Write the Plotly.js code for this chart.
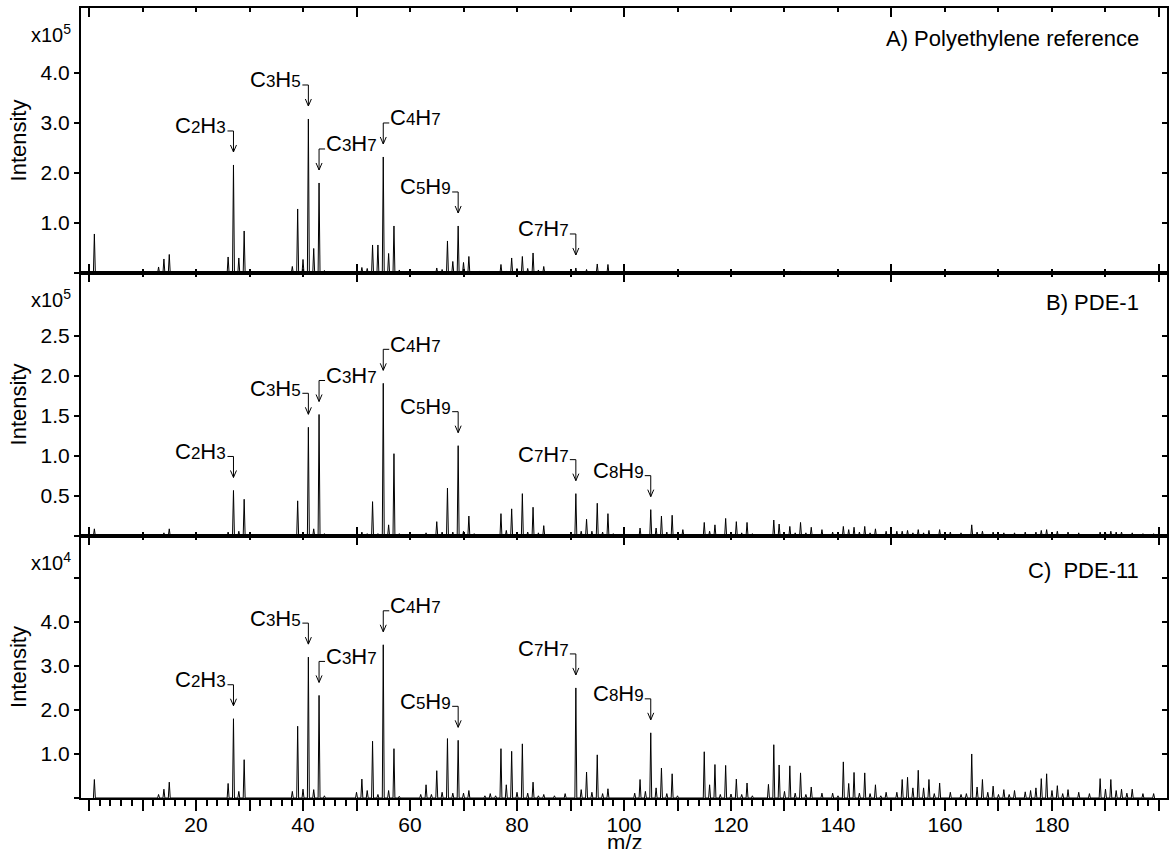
<!DOCTYPE html>
<html>
<head>
<meta charset="utf-8">
<script src="https://cdn.plot.ly/plotly-3.0.1.min.js"></script>
<style>
  html, body { margin: 0; padding: 0; background: #fff; }
  #chart { width: 1169px; height: 849px; }
</style>
</head>
<body>
<div id="chart"></div>
<script>
// ---- Peak lists: [m/z, intensity] ----
// Panels A and B are in units of 1e5 counts, panel C in units of 1e4 counts.
const peaksA = [
  [1,0.78],[2,0.02],[12,0.03],[13,0.12],[14,0.28],[15,0.37],
  [26,0.32],[27,2.16],[28,0.30],[29,0.84],
  [38,0.13],[39,1.28],[40,0.27],[41,3.08],[42,0.49],[43,1.80],[44,0.05],
  [50,0.03],[51,0.11],[52,0.09],[53,0.56],[54,0.56],[55,2.32],[56,0.39],[57,0.94],[58,0.06],
  [65,0.10],[66,0.07],[67,0.64],[68,0.23],[69,0.94],[70,0.21],[71,0.33],[73,0.04],
  [77,0.17],[78,0.04],[79,0.30],[80,0.09],[81,0.33],[82,0.09],[83,0.40],[84,0.06],[85,0.13],
  [90,0.05],[91,0.10],[92,0.03],[93,0.07],[94,0.03],[95,0.18],[96,0.03],[97,0.17],[98,0.02],
  [105,0.03],[109,0.02],[133,0.04]
];

const peaksB = [
  [1,0.09],[14,0.04],[15,0.09],
  [26,0.05],[27,0.57],[28,0.06],[29,0.46],
  [38,0.02],[39,0.44],[40,0.05],[41,1.36],[42,0.09],[43,1.52],[44,0.03],[45,0.02],
  [51,0.05],[52,0.03],[53,0.43],[54,0.03],[55,1.91],[56,0.14],[57,1.03],[58,0.03],[59,0.02],
  [63,0.04],[65,0.18],[66,0.05],[67,0.60],[68,0.05],[69,1.13],[70,0.06],[71,0.25],[72,0.03],
  [76,0.02],[77,0.28],[78,0.07],[79,0.34],[80,0.04],[81,0.53],[82,0.05],[83,0.36],[84,0.04],[85,0.13],
  [91,0.53],[92,0.06],[93,0.21],[94,0.06],[95,0.41],[96,0.05],[97,0.28],[98,0.03],
  [103,0.10],[105,0.33],[106,0.10],[107,0.25],[108,0.05],[109,0.26],[110,0.03],[111,0.08],
  [115,0.17],[116,0.06],[117,0.14],[119,0.22],[120,0.05],[121,0.18],[122,0.04],[123,0.17],[124,0.03],[125,0.02],
  [128,0.20],[129,0.15],[131,0.12],[132,0.04],[133,0.17],[134,0.04],[135,0.11],[137,0.08],[139,0.05],
  [141,0.12],[142,0.08],[143,0.11],[144,0.05],[145,0.12],[146,0.04],[147,0.09],[149,0.06],
  [151,0.06],[152,0.06],[153,0.07],[154,0.04],[155,0.08],[156,0.04],[157,0.07],[159,0.08],
  [161,0.05],[163,0.04],[165,0.14],[166,0.05],[167,0.06],[169,0.05],[171,0.04],[173,0.04],
  [175,0.05],[177,0.05],[178,0.07],[179,0.08],[180,0.05],[181,0.06],[183,0.05],[185,0.04],
  [189,0.05],[190,0.04],[191,0.06],[192,0.05],[193,0.05],[195,0.04],[197,0.03],[199,0.03]
];

const peaksC = [
  [1,0.42],[13,0.08],[14,0.20],[15,0.36],
  [26,0.33],[27,1.80],[28,0.15],[29,0.87],
  [38,0.15],[39,1.63],[40,0.20],[41,3.20],[42,0.19],[43,2.33],[44,0.05],
  [50,0.13],[51,0.43],[52,0.17],[53,1.29],[54,0.08],[55,3.48],[56,0.17],[57,1.12],[58,0.04],
  [62,0.08],[63,0.30],[64,0.08],[65,0.62],[66,0.13],[67,1.35],[68,0.11],[69,1.31],[70,0.11],[71,0.17],
  [74,0.05],[75,0.10],[76,0.05],[77,1.12],[78,0.30],[79,1.06],[80,0.13],[81,1.23],[82,0.11],[83,0.36],
  [84,0.05],[85,0.08],[87,0.05],[89,0.10],
  [91,2.50],[92,0.19],[93,0.59],[94,0.13],[95,0.98],[96,0.10],[97,0.21],
  [102,0.11],[103,0.42],[104,0.15],[105,1.48],[106,0.23],[107,0.68],[108,0.10],[109,0.55],[110,0.05],
  [115,1.05],[116,0.30],[117,0.76],[118,0.08],[119,0.74],[120,0.09],[121,0.43],[122,0.08],[123,0.34],[124,0.05],
  [127,0.31],[128,1.21],[129,0.75],[130,0.15],[131,0.73],[132,0.11],[133,0.57],[134,0.08],[135,0.25],
  [137,0.11],[139,0.11],[140,0.05],[141,0.82],[142,0.33],[143,0.58],[144,0.11],[145,0.57],[146,0.10],
  [147,0.30],[148,0.05],[149,0.13],[151,0.13],[152,0.42],[153,0.47],[154,0.23],[155,0.63],[156,0.23],
  [157,0.42],[158,0.10],[159,0.34],[161,0.13],[163,0.08],[164,0.10],[165,1.00],[166,0.25],[167,0.42],
  [168,0.13],[169,0.27],[170,0.08],[171,0.19],[172,0.08],[173,0.17],[175,0.14],[176,0.17],[177,0.23],
  [178,0.44],[179,0.55],[180,0.17],[181,0.28],[182,0.10],[183,0.19],[185,0.13],[187,0.10],
  [189,0.44],[190,0.20],[191,0.42],[192,0.17],[193,0.20],[194,0.11],[195,0.20],[197,0.10],[199,0.10]
];

// ---- Fragment assignments: formula, m/z, side of the peak the label sits on ----
const fragFormulas = ['C2H3', 'C3H5', 'C3H7', 'C4H7', 'C5H9', 'C7H7', 'C8H9'];
const fragMz       = [27, 41, 43, 55, 69, 91, 105];
const fragSide     = ['left', 'left', 'right', 'right', 'left', 'left', 'left'];
const fragCount    = [6, 7, 7];            // labelled fragments per panel

// ---- Panel texts and tick labels ----
const panelNames     = ['A) Polyethylene reference', 'B) PDE-1', 'C)\u00a0 PDE-11'];
const panelExponents = ['x10<sup>5</sup>', 'x10<sup>5</sup>', 'x10<sup>4</sup>'];
const yTickVals = [[0, 1, 2, 3, 4], [0, 0.5, 1, 1.5, 2, 2.5], [0, 1, 2, 3, 4, 5]];
const yTickText = [['', '1.0', '2.0', '3.0', '4.0'],
                   ['', '0.5', '1.0', '1.5', '2.0', '2.5'],
                   ['', '1.0', '2.0', '3.0', '4.0', '']];
const mzTickVals = [0,10,20,30,40,50,60,70,80,90,100,110,120,130,140,150,160,170,180,190,200];
const mzTickText = ['','','20','','40','','60','','80','','100','','120','','140','','160','','180','',''];
const mzTitle = 'm/z';

// ---- Drawing settings ----
const FONT = 'Liberation Sans, Arial, Helvetica, sans-serif';
const PEAK_HALF_WIDTH = 0.18;
const X_RANGE = [-1.5, 201.5];
const Y_RANGES = [[0, 5.3], [0, 3.29], [0, 5.95]];
const DOMAINS = [[0.6646, 1], [0.3316, 0.6646], [0, 0.3316]];
const panels = [peaksA, peaksB, peaksC];
const xIds = ['x', 'x2', 'x3'];
const yIds = ['y', 'y2', 'y3'];

function profile(peaks) {
  const x = [], y = [];
  peaks.forEach(([m, h]) => {
    x.push(m - PEAK_HALF_WIDTH, m, m + PEAK_HALF_WIDTH);
    y.push(0, h, 0);
  });
  return { x, y };
}

function formulaText(f) {
  return f.replace(/(\d)/g, '<span style="font-size:17px">$1</span>');
}

function heightAt(peaks, mz) {
  const p = peaks.find(q => q[0] === mz);
  return p ? p[1] : 0;
}

const traces = [];
panels.forEach((peaks, i) => {
  const p = profile(peaks);
  traces.push({
    type: 'scatter', mode: 'lines', x: p.x, y: p.y,
    xaxis: xIds[i], yaxis: yIds[i],
    line: { color: '#000', width: 1 },
    hoverinfo: 'skip', showlegend: false
  });
});
// Carriers for the tick-only overlay axes
[['x', 'y4'], ['x2', 'y5'], ['x3', 'y6'], ['x4', 'y3']].forEach(([xa, ya]) => {
  traces.push({ type: 'scatter', mode: 'lines', x: [], y: [], xaxis: xa, yaxis: ya,
                hoverinfo: 'skip', showlegend: false });
});

const annotations = [];
const shapes = [];
panels.forEach((peaks, i) => {
  for (let k = 0; k < fragCount[i]; k++) {
    const m = fragMz[k];
    const h = heightAt(peaks, m);
    const left = fragSide[k] === 'left';
    annotations.push({
      xref: xIds[i], yref: yIds[i], x: m, y: h,
      text: formulaText(fragFormulas[k]), showarrow: false,
      xanchor: left ? 'right' : 'left', yanchor: 'middle',
      xshift: left ? -6 : 6, yshift: 39, borderpad: 0,
      font: { family: FONT, size: 22, color: '#000' }
    });
    shapes.push({
      type: 'path', xref: xIds[i], yref: yIds[i],
      xsizemode: 'pixel', ysizemode: 'pixel', xanchor: m, yanchor: h,
      path: (left ? 'M-6,34 L0,34' : 'M6,34 L0,34') + ' L0,13 M-3,20 L0,13 L3,20',
      line: { color: '#000', width: 1 }
    });
  }
  annotations.push({
    xref: xIds[i] + ' domain', yref: yIds[i] + ' domain', x: 1, y: 1,
    xanchor: 'right', yanchor: 'middle', xshift: -27, yshift: -30 - (i === 2 ? 4 : 0),
    text: panelNames[i], showarrow: false, borderpad: 0,
    font: { family: FONT, size: 22, color: '#000' }
  });
  annotations.push({
    xref: 'paper', yref: yIds[i] + ' domain', x: 0, y: 0.9,
    xanchor: 'right', yanchor: 'middle', xshift: -9, yshift: 1,
    text: panelExponents[i], showarrow: false, borderpad: 0,
    font: { family: FONT, size: 20, color: '#000' }
  });
});
// m/z caption under the bottom axis, centred on the 100 tick
annotations.push({
  xref: 'x3', yref: 'paper', x: 100, y: 0, xanchor: 'center', yanchor: 'middle',
  yshift: -44, text: mzTitle, showarrow: false, borderpad: 0,
  font: { family: FONT, size: 22, color: '#000' }
});

const lineStyle = { showline: true, linecolor: '#000', linewidth: 2, showgrid: false,
                    zeroline: false, tickcolor: '#000', tickwidth: 2 };

function boxX(anchor) {
  return Object.assign({}, lineStyle, {
    anchor: anchor, range: X_RANGE, mirror: 'ticks', ticks: 'inside',
    tickmode: 'linear', tick0: 0, dtick: 50, ticklen: 9, showticklabels: false,
    minor: { ticks: 'inside', tickmode: 'linear', tick0: 0, dtick: 10, ticklen: 4,
             tickwidth: 2, tickcolor: '#000' }
  });
}

function leftY(i) {
  return Object.assign({}, lineStyle, {
    domain: DOMAINS[i], anchor: xIds[i], range: Y_RANGES[i], mirror: true,
    tickmode: 'array', tickvals: yTickVals[i], ticktext: yTickText[i],
    ticks: 'outside', ticklen: 5, automargin: false,
    tickfont: { family: FONT, size: 21, color: '#000' },
    title: { text: 'Intensity', font: { family: FONT, size: 22, color: '#000' } }
  });
}

function rightY(i) {
  return {
    overlaying: yIds[i], side: 'right', anchor: xIds[i], range: Y_RANGES[i],
    showline: false, showgrid: false, zeroline: false, showticklabels: false,
    tickmode: 'array', tickvals: yTickVals[i], ticks: 'inside', ticklen: 5,
    tickwidth: 2, tickcolor: '#000'
  };
}

const layout = {
  width: 1169, height: 849,
  margin: { l: 81, r: 2, t: 8, b: 51 },
  paper_bgcolor: '#fff', plot_bgcolor: '#fff',
  font: { family: FONT, size: 22, color: '#000' },
  showlegend: false,
  xaxis: boxX('y'),
  xaxis2: boxX('y2'),
  xaxis3: Object.assign({}, lineStyle, {
    anchor: 'y3', range: X_RANGE, mirror: true, ticks: 'outside', ticklen: 11,
    tickmode: 'array', tickvals: mzTickVals, ticktext: mzTickText, automargin: false,
    ticklabelposition: 'outside', ticklabelstandoff: -4,
    tickfont: { family: FONT, size: 21, color: '#000' },
    minor: { ticks: 'outside', tickmode: 'linear', tick0: 0, dtick: 2, ticklen: 6,
             tickwidth: 2, tickcolor: '#000' }
  }),
  xaxis4: Object.assign(boxX('y3'), { overlaying: 'x3', side: 'top', showline: false, mirror: false }),
  yaxis: leftY(0),
  yaxis2: leftY(1),
  yaxis3: leftY(2),
  yaxis4: rightY(0),
  yaxis5: rightY(1),
  yaxis6: rightY(2),
  annotations: annotations,
  shapes: shapes
};

Plotly.newPlot('chart', traces, layout, { staticPlot: true, displayModeBar: false });
</script>
</body>
</html>
